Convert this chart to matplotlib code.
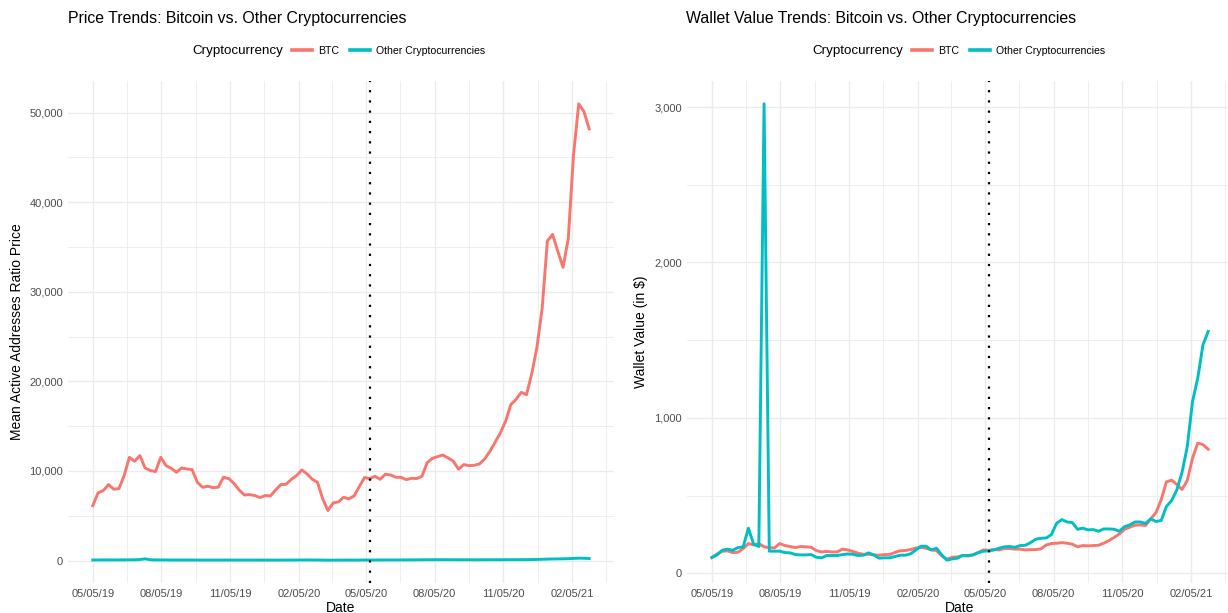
import pandas as pd
import numpy as np
import matplotlib
matplotlib.use('Agg')
import matplotlib.pyplot as plt
import matplotlib.dates as mdates
from matplotlib.ticker import FuncFormatter, FixedLocator
from matplotlib.lines import Line2D

# datos semanales
fechas = pd.date_range('2019-05-05', periods=96, freq='7D')

btc_precio = [6130, 7550, 7800, 8480, 7960, 8030, 9480, 11520, 11080, 11710,
              10330, 10040, 9930, 11520, 10600, 10300, 9850, 10330, 10220, 10150,
              8740, 8180, 8290, 8140, 8180, 9290, 9150, 8620, 7880, 7320,
              7360, 7250, 7030, 7250, 7210, 7880, 8480, 8510, 9070, 9480,
              10110, 9670, 9070, 8740, 6880, 5580, 6430, 6540, 7060, 6880,
              7210, 8250, 9260, 9150, 9400, 9070, 9630, 9550, 9290, 9290,
              9030, 9180, 9150, 9400, 10930, 11410, 11600, 11780, 11450, 11080,
              10190, 10710, 10590, 10630, 10780, 11340, 12190, 13200, 14240, 15540,
              17400, 17990, 18770, 18510, 20820, 23790, 28140, 35660, 36400, 34500,
              32720, 35940, 45270, 50970, 50110, 48170]

otras_precio = [60, 65, 70, 70, 65, 70, 75, 80, 85, 110,
                190, 90, 70, 65, 65, 60, 60, 60, 60, 60,
                55, 55, 55, 55, 55, 55, 55, 55, 55, 55,
                55, 55, 50, 50, 50, 50, 55, 55, 55, 60,
                65, 65, 60, 60, 50, 40, 45, 45, 50, 50,
                50, 55, 60, 60, 60, 65, 65, 65, 65, 70,
                70, 75, 80, 85, 90, 95, 95, 95, 90, 90,
                85, 85, 85, 85, 85, 90, 90, 90, 90, 95,
                95, 100, 100, 100, 110, 120, 140, 160, 175, 185,
                195, 210, 240, 265, 255, 225]

btc_wallet = [101, 124, 142, 144, 133, 135, 159, 191, 182, 191,
              170, 165, 163, 191, 178, 172, 165, 172, 170, 167,
              146, 137, 140, 137, 137, 155, 150, 140, 129, 122,
              122, 118, 116, 120, 120, 133, 144, 146, 152, 161,
              167, 161, 150, 146, 112, 90, 103, 105, 114, 110,
              118, 133, 150, 148, 152, 150, 159, 159, 155, 155,
              150, 152, 152, 157, 182, 191, 193, 197, 193, 187,
              170, 178, 176, 178, 180, 193, 210, 230, 253, 283,
              296, 309, 311, 307, 350, 390, 472, 588, 599, 571,
              539, 597, 740, 837, 828, 798]

otras_wallet = [101, 118, 148, 155, 148, 165, 170, 290, 187, 172,
                3021, 142, 142, 142, 133, 131, 120, 118, 118, 120,
                103, 99, 114, 114, 114, 120, 124, 122, 114, 116,
                131, 118, 97, 99, 99, 107, 116, 116, 124, 148,
                174, 174, 150, 161, 118, 84, 92, 97, 114, 114,
                118, 133, 142, 144, 150, 161, 170, 172, 167, 178,
                180, 197, 219, 225, 227, 249, 322, 345, 330, 326,
                283, 290, 279, 281, 270, 285, 285, 283, 270, 300,
                311, 330, 330, 320, 350, 333, 339, 429, 468, 536,
                650, 815, 1105, 1255, 1470, 1556]

fecha_halving = pd.Timestamp('2020-05-11')
ticks_fecha = pd.to_datetime(['2019-05-05', '2019-08-05', '2019-11-05', '2020-02-05',
                              '2020-05-05', '2020-08-05', '2020-11-05', '2021-02-05'])
ticks_precio = [0, 10000, 20000, 30000, 40000, 50000]
ticks_wallet = [0, 1000, 2000, 3000]

ROJO = '#F8766D'
CIAN = '#00BFC4'
GRIS = '#EBEBEB'

plt.rcParams['font.family'] = ['Liberation Sans', 'DejaVu Sans']

W, H = 1228, 613
fig = plt.figure(figsize=(W / 100, H / 100), dpi=100)


def expandir(vmin, vmax, f=0.05):
    r = vmax - vmin
    return vmin - f * r, vmax + f * r


def dibujar_panel(ax, y_btc, y_otras, titulo, etiqueta_y, ticks_y, x_titulo, x_leyenda, pad_y):
    x = mdates.date2num(fechas)
    ax.plot(x, y_btc, color=ROJO, lw=2.1, solid_joinstyle='round', zorder=3)
    ax.plot(x, y_otras, color=CIAN, lw=2.1, solid_joinstyle='round', zorder=3)
    ax.axvline(mdates.date2num(fecha_halving), color='black', lw=1.6,
               linestyle=(0, (1, 3.6)), dash_capstyle='butt', zorder=4)

    ax.set_xlim(*expandir(x.min(), x.max()))
    todos = list(y_btc) + list(y_otras)
    ax.set_ylim(*expandir(min(todos), max(todos)))

    # rejilla mayor y menor al estilo ggplot
    mayores = mdates.date2num(ticks_fecha)
    paso = np.diff(mayores)
    menores = list((mayores[:-1] + mayores[1:]) / 2)
    menores = [mayores[0] - paso[0] / 2] + menores + [mayores[-1] + paso[-1] / 2]
    ax.xaxis.set_major_locator(FixedLocator(mayores))
    ax.xaxis.set_minor_locator(FixedLocator(menores))
    ax.xaxis.set_major_formatter(mdates.DateFormatter('%m/%d/%y'))
    ax.yaxis.set_major_locator(FixedLocator(ticks_y))
    paso_y = ticks_y[1] - ticks_y[0]
    ax.yaxis.set_minor_locator(FixedLocator([t + paso_y / 2 for t in [ticks_y[0] - paso_y] + ticks_y]))
    ax.yaxis.set_major_formatter(FuncFormatter(lambda v, p: f'{v:,.0f}'))

    ax.grid(which='major', color=GRIS, lw=1.0)
    ax.grid(which='minor', color=GRIS, lw=0.6)
    ax.set_axisbelow(True)
    for s in ax.spines.values():
        s.set_visible(False)
    ax.tick_params(which='both', length=0, labelsize=8, labelcolor='#4D4D4D')
    ax.tick_params(axis='x', pad=4)
    ax.tick_params(axis='y', pad=3.5)

    ax.set_xlabel('Date', fontsize=10, labelpad=1.5)
    ax.set_ylabel(etiqueta_y, fontsize=10, labelpad=pad_y)

    fig.text(x_titulo / W, 1 - 18 / H, titulo, fontsize=11.4, ha='left', va='center')
    fig.text(x_leyenda / W, 1 - 51 / H, 'Cryptocurrency', fontsize=9.6, ha='right', va='center')
    manejadores = [Line2D([], [], color=ROJO, lw=2.6), Line2D([], [], color=CIAN, lw=2.6)]
    fig.legend(manejadores, ['BTC', 'Other Cryptocurrencies'], loc='center left',
               bbox_to_anchor=((x_leyenda + 9) / W, 1 - 51 / H), ncol=2, frameon=False,
               fontsize=7.6, handlelength=1.9, handletextpad=0.6, columnspacing=1.0,
               borderpad=0, borderaxespad=0)


ax1 = fig.add_axes([68 / W, 30 / H, 546 / W, 502 / H])
ax2 = fig.add_axes([687 / W, 30 / H, 546 / W, 502 / H])

dibujar_panel(ax1, btc_precio, otras_precio, 'Price Trends: Bitcoin vs. Other Cryptocurrencies',
              'Mean Active Addresses Ratio Price', ticks_precio, 68, 283, 4)
dibujar_panel(ax2, btc_wallet, otras_wallet, 'Wallet Value Trends: Bitcoin vs. Other Cryptocurrencies',
              'Wallet Value (in $)', ticks_wallet, 686, 903, 5)

fig.savefig('out.png', dpi=100)
